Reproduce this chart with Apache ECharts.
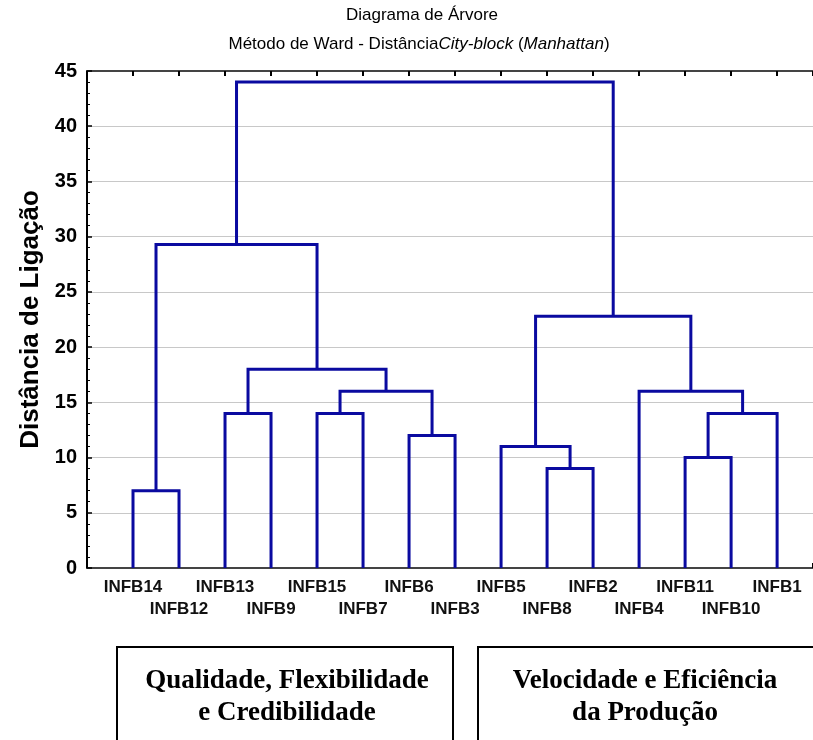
<!DOCTYPE html>
<html>
<head>
<meta charset="utf-8">
<script src="https://cdn.jsdelivr.net/npm/echarts@6/dist/echarts.min.js"></script>
<style>
  html, body { margin: 0; padding: 0; background: #fff; }
  #chart { width: 813px; height: 740px; }
</style>
</head>
<body>
<div id="chart"></div>
<script>
// leaf order along the x axis
const leaves = ['INFB14', 'INFB12', 'INFB13', 'INFB9', 'INFB15', 'INFB7', 'INFB6', 'INFB3',
                'INFB5', 'INFB8', 'INFB2', 'INFB4', 'INFB11', 'INFB10', 'INFB1'];
// linkage: ids 0-14 are the leaves, each merge gets the next id (15, 16, ...)
const mergeLeft  = [0, 2, 4, 6, 17, 16, 15,  9,  8, 12, 24, 11, 23, 21];
const mergeRight = [1, 3, 5, 7, 18, 19, 20, 10, 22, 13, 14, 25, 26, 27];
const mergeDist  = [7, 14, 14, 12, 16, 18, 29.3, 9, 11, 10, 14, 16, 22.8, 44];
const yTicks = [0, 5, 10, 15, 20, 25, 30, 35, 40, 45];

// positions of leaves and clusters
const pos = leaves.map((d, i) => i + 1);
const height = leaves.map(() => 0);
const links = [];
for (let k = 0; k < mergeDist.length; k++) {
  const a = mergeLeft[k], b = mergeRight[k];
  links.push([pos[a], pos[b], height[a], height[b], mergeDist[k]]);
  pos.push((pos[a] + pos[b]) / 2);
  height.push(mergeDist[k]);
}

const chart = echarts.init(document.getElementById('chart'));
const option = {
  animation: false,
  grid: { left: 87, right: 0, top: 71, bottom: 172, outerBoundsMode: 'none' },
  xAxis: [
    {
      type: 'value', min: 0, max: 15.78, interval: 1, position: 'bottom',
      axisLine: { lineStyle: { color: '#444', width: 2 } },
      axisTick: { inside: true, length: 5, lineStyle: { color: '#000', width: 2 } },
      splitLine: { show: false },
      axisLabel: {
        margin: 8, color: '#111', fontFamily: 'Liberation Sans, Arial', fontWeight: 'bold',
        fontSize: 17, lineHeight: 22, showMinLabel: true, showMaxLabel: true, hideOverlap: false,
        formatter: function (v) {
          const i = Math.round(v) - 1;
          if (Math.abs(v - Math.round(v)) > 1e-6 || i < 0 || i >= leaves.length) return '';
          return i % 2 === 1 ? '\n' + leaves[i] : leaves[i];
        }
      }
    },
    {
      type: 'value', min: 0, max: 15.78, interval: 1, position: 'top',
      axisLine: { lineStyle: { color: '#444', width: 2 } },
      axisTick: { inside: true, length: 5, lineStyle: { color: '#000', width: 2 } },
      axisLabel: { show: false },
      splitLine: { show: false }
    }
  ],
  yAxis: {
    type: 'value', min: 0, max: 45, interval: 5,
    name: 'Distância de Ligação', nameLocation: 'middle', nameGap: 43,
    nameTextStyle: { fontFamily: 'Liberation Sans, Arial', fontWeight: 'bold', fontSize: 26, color: '#000' },
    axisLine: { show: true, lineStyle: { color: '#000', width: 2 } },
    axisTick: { inside: true, length: 5, lineStyle: { color: '#000', width: 1.5 } },
    minorTick: { show: true, splitNumber: 5, length: 3, lineStyle: { color: '#000', width: 1 } },
    splitLine: { show: true, lineStyle: { color: '#c8c8c8', width: 1 } },
    axisLabel: {
      margin: 10, color: '#000', fontFamily: 'Liberation Sans, Arial', fontWeight: 'bold', fontSize: 20,
      formatter: function (v) { return yTicks.indexOf(v) >= 0 ? String(v) : ''; }
    }
  },
  series: [{
    type: 'custom',
    xAxisIndex: 0,
    encode: { x: [0, 1], y: [2, 3, 4] },
    data: links,
    renderItem: function (params, api) {
      const p1 = api.coord([api.value(0), api.value(2)]);
      const p2 = api.coord([api.value(0), api.value(4)]);
      const p3 = api.coord([api.value(1), api.value(4)]);
      const p4 = api.coord([api.value(1), api.value(3)]);
      return {
        type: 'polyline',
        shape: { points: [p1, p2, p3, p4] },
        style: { stroke: '#0a0aa0', lineWidth: 3, fill: null, lineJoin: 'miter' }
      };
    }
  }],
  graphic: [
    {
      type: 'text', x: 422, y: 15,
      style: { text: 'Diagrama de Árvore', font: '17px Liberation Sans, Arial', fill: '#000',
               textAlign: 'center', textVerticalAlign: 'middle' }
    },
    {
      type: 'text', x: 419, y: 44,
      style: {
        text: '{n|Método de Ward - Distância}{i|City-block}{n| (}{i|Manhattan}{n|)}',
        textAlign: 'center', textVerticalAlign: 'middle', fill: '#000',
        rich: {
          n: { fontFamily: 'Liberation Sans, Arial', fontSize: 17, fill: '#000' },
          i: { fontFamily: 'Liberation Sans, Arial', fontSize: 17, fontStyle: 'italic', fill: '#000' }
        }
      }
    },
    {
      type: 'rect', shape: { x: 117, y: 647, width: 336, height: 120 },
      style: { fill: 'none', stroke: '#000', lineWidth: 2 }
    },
    {
      type: 'rect', shape: { x: 478, y: 647, width: 340, height: 120 },
      style: { fill: 'none', stroke: '#000', lineWidth: 2 }
    },
    {
      type: 'text', x: 287, y: 697,
      style: { text: 'Qualidade, Flexibilidade\ne Credibilidade', font: 'bold 27px Liberation Serif, Times New Roman',
               lineHeight: 32, fill: '#000', textAlign: 'center', textVerticalAlign: 'middle' }
    },
    {
      type: 'text', x: 645, y: 697,
      style: { text: 'Velocidade e Eficiência\nda Produção', font: 'bold 27px Liberation Serif, Times New Roman',
               lineHeight: 32, fill: '#000', textAlign: 'center', textVerticalAlign: 'middle' }
    }
  ]
};
chart.setOption(option);
</script>
</body>
</html>
